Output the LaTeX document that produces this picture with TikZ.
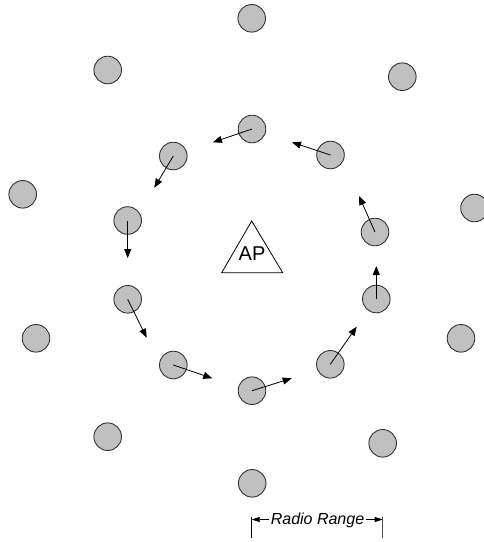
\documentclass[tikz,border=0pt]{standalone}
\usepackage{fontspec}
\setmainfont{Liberation Sans}
\usetikzlibrary{arrows.meta}
\definecolor{nodegray}{HTML}{C0C0C0}
\definecolor{edgegray}{HTML}{333333}
\tikzset{
  station/.style={circle, draw=edgegray, fill=nodegray, line width=0.9pt, minimum size=27.6pt, inner sep=0pt},
  move/.style={-{Triangle[length=9pt,width=7pt]}, line width=0.8pt},
  rangetip/.style={-{Triangle[length=8pt,width=5pt]}, line width=0.7pt},
  bar/.style={line width=1pt},
}
\begin{document}
\begin{tikzpicture}[x=1pt,y=-1pt]
\useasboundingbox (0,0) rectangle (483,542);
% outer stations
\node[station] (o1) at (251.7,18.3) {};
\node[station] (o2) at (107.7,70) {};
\node[station] (o3) at (402.3,76.7) {};
\node[station] (o4) at (22.7,194.3) {};
\node[station] (o5) at (474.5,208) {};
\node[station] (o6) at (36,338.3) {};
\node[station] (o7) at (461,338.3) {};
\node[station] (o8) at (107.7,436.7) {};
\node[station] (o9) at (382.7,443.3) {};
\node[station] (o10) at (252.2,483.3) {};
% inner moving stations
\node[station] (i1) at (252,129) {};
\node[station] (i2) at (330.5,155) {};
\node[station] (i3) at (173.3,156) {};
\node[station] (i4) at (127.7,220.5) {};
\node[station] (i5) at (375,232) {};
\node[station] (i6) at (127.7,299.3) {};
\node[station] (i7) at (376.3,299) {};
\node[station] (i8) at (173.3,365) {};
\node[station] (i9) at (330.3,364.3) {};
\node[station] (i10) at (252,390.7) {};
% arrow targets
\coordinate (t1) at (213,142.3);
\coordinate (t2) at (292,142.3);
\coordinate (t3) at (154.3,187.7);
\coordinate (t4) at (127.7,258);
\coordinate (t5) at (359,196);
\coordinate (t6) at (146.7,337.7);
\coordinate (t7) at (376.3,266);
\coordinate (t8) at (212.3,378.3);
\coordinate (t9) at (356.7,326.7);
\coordinate (t10) at (291.7,378.3);
\foreach \i in {1,...,10} {\draw[move] (i\i.center) -- (t\i);}
% access point
\coordinate (apTop) at (251.7,221);
\coordinate (apL) at (221.7,272.7);
\coordinate (apR) at (282.7,272.7);
\draw[line width=0.8pt, fill=white] (apTop) -- (apL) -- (apR) -- cycle;
\node[font=\fontsize{20}{20}\selectfont, inner sep=0pt] (ap) at (252,253.5) {AP};
% radio range
\coordinate (lb1) at (251.7,517);
\coordinate (lb2) at (251.7,538);
\coordinate (rb1) at (382.7,517);
\coordinate (rb2) at (382.7,538);
\draw[bar] (lb1) -- (lb2);
\draw[bar, draw=black!70] (rb1) -- (rb2);
\node[font=\fontsize{16}{16}\selectfont\itshape, inner sep=1.5pt] (rr) at (317.5,520.5) {Radio Range};
\draw[rangetip] (rr.west |- 0,519.5) -- (251.7,519.5);
\draw[rangetip] (rr.east |- 0,519.5) -- (382.7,519.5);
\end{tikzpicture}
\end{document}
